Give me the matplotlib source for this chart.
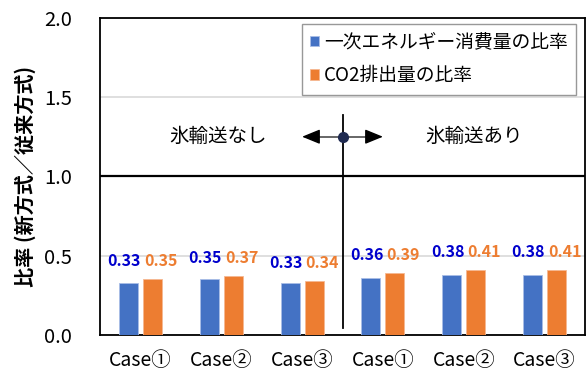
import matplotlib.pyplot as plt
import numpy as np

plt.rcParams['font.family'] = ['Noto Sans CJK JP', 'DejaVu Sans']

cases = ['Case①', 'Case②', 'Case③', 'Case①', 'Case②', 'Case③']
energy = [0.33, 0.35, 0.33, 0.36, 0.38, 0.38]
co2 = [0.35, 0.37, 0.34, 0.39, 0.41, 0.41]
series_names = ['一次エネルギー消費量の比率', 'CO2排出量の比率']

blue = '#4472C4'
orange = '#ED7D31'

fig, ax = plt.subplots(figsize=(5.88, 3.72), dpi=100)
fig.subplots_adjust(left=0.17, right=0.995, top=0.952, bottom=0.10)

x = np.arange(len(cases))
w = 0.235
ax.bar(x - 0.148, energy, w, color=blue, edgecolor='#a9bde6', linewidth=0.6,
       label=series_names[0], zorder=3)
ax.bar(x + 0.148, co2, w, color=orange, edgecolor='#f5b892', linewidth=0.6,
       label=series_names[1], zorder=3)

# 数値ラベル
for i in range(len(cases)):
    top = max(energy[i], co2[i])
    ax.text(x[i] - 0.2, top + 0.065, f'{energy[i]:.2f}', ha='center', va='bottom',
            color='#0000CC', fontsize=11.5, fontweight='bold')
    ax.text(x[i] + 0.25, top + 0.065, f'{co2[i]:.2f}', ha='center', va='bottom',
            color=orange, fontsize=11.5, fontweight='bold')

ax.set_xlim(-0.5, len(cases) - 0.5)
ax.set_ylim(0, 2.0)
ax.set_yticks([0, 0.5, 1.0, 1.5, 2.0])
ax.set_yticklabels(['0.0', '0.5', '1.0', '1.5', '2.0'], fontsize=14.5)
ax.set_xticks(x)
ax.set_xticklabels(cases, fontsize=14)
ax.tick_params(length=0)
ax.tick_params(axis='x', pad=11)
ax.tick_params(axis='y', pad=20)
ax.grid(axis='y', color='#d9d9d9', linewidth=1.2, zorder=0)
ax.axhline(1.0, color='black', linewidth=1.6, zorder=2)
for s in ax.spines.values():
    s.set_color('black')
    s.set_linewidth(1.3)

ax.set_ylabel('比率 (新方式／従来方式)', fontsize=14.5, fontweight='bold', labelpad=6)

# 区切り線と矢印
ax.plot([2.5, 2.5], [0.045, 1.39], color='black', linewidth=1.3, zorder=4)
ax.plot([2.05, 2.95], [1.25, 1.25], color='#666666', linewidth=1.4, zorder=4)
head = dict(arrowstyle='-|>,head_length=1.1,head_width=0.45', color='black',
            lw=1.0, shrinkA=0, shrinkB=0)
ax.annotate('', xy=(2.0, 1.25), xytext=(2.15, 1.25), arrowprops=head, zorder=5)
ax.annotate('', xy=(3.0, 1.25), xytext=(2.85, 1.25), arrowprops=head, zorder=5)
ax.plot(2.5, 1.25, 'o', color='#1f2a50', markersize=7, zorder=6)
ax.text(0.96, 1.25, '氷輸送なし', ha='center', va='center', fontsize=14)
ax.text(4.13, 1.25, '氷輸送あり', ha='center', va='center', fontsize=14)

leg = ax.legend(loc='upper right', fontsize=13.5, frameon=True, fancybox=False,
                edgecolor='#7f7f7f', handlelength=0.45, handleheight=0.45,
                handletextpad=0.3, borderpad=0.45, labelspacing=0.65,
                borderaxespad=0, bbox_to_anchor=(0.982, 0.982))
leg.get_frame().set_linewidth(1.0)

fig.savefig('out.png', dpi=100)
